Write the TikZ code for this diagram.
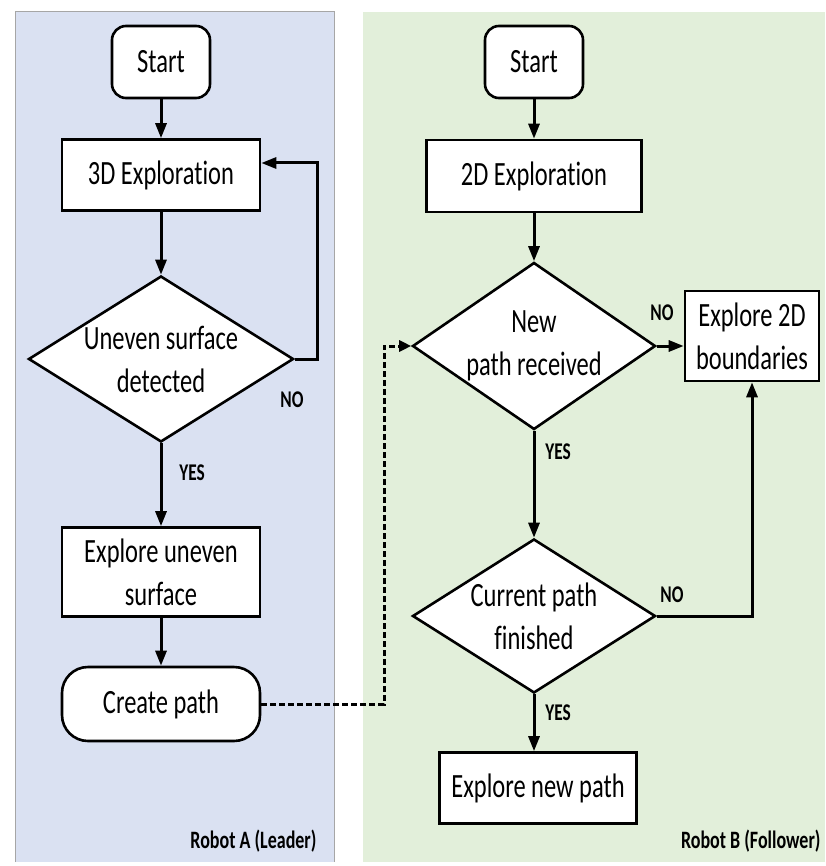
\documentclass[tikz,border=0pt]{standalone}
\usepackage{fontspec}
\setmainfont{Carlito}[FakeStretch=0.72,Ligatures=NoCommon]
\usetikzlibrary{shapes.geometric,arrows.meta}
\definecolor{leaderbg}{RGB}{218,225,242}
\definecolor{followerbg}{RGB}{226,239,218}
\tikzset{
  boxfont/.style={font=\fontsize{34}{43}\selectfont},
  terminal/.style={draw, fill=white, line width=2.6pt, rounded corners=14pt,
    minimum width=98pt, minimum height=72pt, boxfont},
  process/.style={draw, fill=white, line width=2.6pt, align=center,
    minimum height=72pt, boxfont},
  decision/.style={diamond, draw, fill=white, line width=2.6pt, inner sep=0pt},
  dtext/.style={align=center, boxfont},
  flow/.style={line width=3pt, -{Triangle[length=15pt,width=11pt]}},
  relay/.style={line width=3pt, dash pattern=on 6pt off 3pt,
    -{Triangle[length=12pt,width=11pt]}},
  answer/.style={font=\bfseries\fontsize{24}{28}\selectfont},
  lane/.style={font=\bfseries\fontsize{25}{28}\selectfont, anchor=east},
}
\begin{document}
\begin{tikzpicture}[x=1pt,y=-1pt]
   \useasboundingbox (0,0) rectangle (825,866);
   % lanes
   \fill[leaderbg] (15,11) rectangle (334,862);
   \draw[gray!70, line width=0.8pt] (15,862) -- (15,11) -- (334,11) -- (334,862);
   \fill[followerbg] (363,12) rectangle (825,862);
   \node[lane] (leader) at (320,841) {Robot A (Leader)};
   \node[lane] (follower) at (824,841) {Robot B (Follower)};
   % robot A
   \node[terminal] (startA) at (161,62) {Start};
   \node[process, minimum width=198pt, minimum height=71pt] (explore3d) at (161,175) {3D Exploration};
   \node[decision, minimum width=265pt, minimum height=166pt,
     label={[dtext]center:Uneven surface\\detected}] (uneven) at (161,359) {};
   \node[process, minimum width=198pt, minimum height=89pt] (surface) at (161,572) {Explore uneven\\surface};
   \node[terminal, rounded corners=26pt, minimum width=198pt, minimum height=74pt] (create) at (161,704) {Create path};
   \draw[flow] (startA) -- (explore3d);
   \draw[flow] (explore3d) -- (uneven);
   \draw[flow] (uneven.east) -- ++(23,0) |- ([yshift=12pt]explore3d.east);
   \node[answer] (noA) at (292,400) {NO};
   \draw[flow] (uneven.south) -- (surface.north);
   \node[answer] (yesA) at (192,473) {YES};
   \draw[flow] (surface) -- (create);
   % robot B
   \node[terminal] (startB) at (534,62) {Start};
   \node[process, minimum width=215pt, minimum height=72pt] (explore2d) at (534,176) {2D Exploration};
   \node[decision, minimum width=243pt, minimum height=167pt,
     label={[dtext]center:New\\path received}] (received) at (534,346) {};
   \node[process, minimum width=134pt, minimum height=90pt] (bounds) at (752,336) {Explore 2D\\boundaries};
   \node[decision, minimum width=243pt, minimum height=154pt,
     label={[dtext]center:Current path\\finished}] (finished) at (534,616) {};
   \node[process, minimum width=197pt, minimum height=71pt] (newpath) at (538,788) {Explore new path};
   \draw[flow] (startB) -- (explore2d);
   \draw[flow] (explore2d) -- (received);
   \draw[flow] (received.east) -- (received.east -| bounds.west);
   \node[answer] (noB) at (662,313) {NO};
   \draw[flow] (received.south) -- (finished.north);
   \node[answer] (yesB) at (558,452) {YES};
   \draw[flow] (finished.east) -| (bounds.south);
   \node[answer] (noC) at (672,595) {NO};
   \draw[flow] (finished.south) -- (finished.south |- newpath.north);
   \node[answer] (yesC) at (558,713) {YES};
   % path handed over
   \draw[relay] (create.east) -| ([xshift=-27pt]received.west) -- (received.west);
\end{tikzpicture}
\end{document}
